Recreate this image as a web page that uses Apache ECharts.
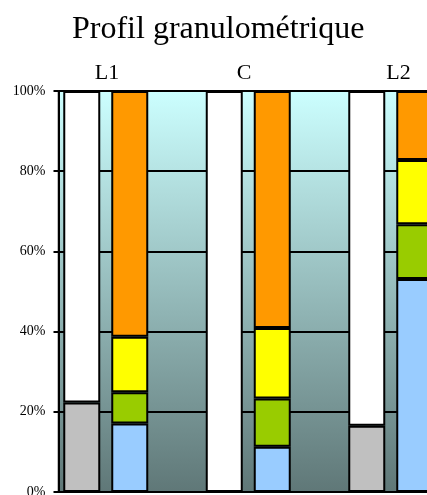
<!DOCTYPE html>
<html>
<head>
<meta charset="utf-8">
<script src="https://cdn.jsdelivr.net/npm/echarts@6/dist/echarts.min.js"></script>
<style>
  html, body { margin: 0; padding: 0; background: #fff; }
  #chart { width: 427px; height: 495px; }
</style>
</head>
<body>
<div id="chart"></div>
<script>
// Profils : L1, C, L2
const categories = ['L1', 'C', 'L2'];

// Éléments grossiers / terre fine (%)
const grossiers = [22.3, 0, 16.5];
const terreFine = [77.7, 100, 83.5];

// Fractions granulométriques de la terre fine (%)
const argiles = [17.1, 11.3, 53.1];
const limonsFins = [7.8, 12.0, 13.7];
const limonsGrossiers = [13.8, 17.6, 16.0];
const sables = [61.3, 59.1, 17.2];

const yTicks = [0, 20, 40, 60, 80, 100];

const serif = '"Liberation Serif", "Times New Roman", serif';
const barBorder = { borderColor: '#000', borderWidth: 2 };

function bar(name, stack, data, color) {
  return {
    name, type: 'bar', stack, data,
    barWidth: 37, barGap: '29.7%',
    itemStyle: Object.assign({ color }, barBorder),
    silent: true
  };
}

// profile names above their column pairs
const headerX = [107, 244, 398.5];

const chart = echarts.init(document.getElementById('chart'));
chart.setOption({
  animation: false,
  backgroundColor: '#fff',
  textStyle: { fontFamily: serif },
  title: {
    text: 'Profil granulométrique',
    left: 72, top: 14, padding: 0,
    textStyle: { fontFamily: serif, fontSize: 32, fontWeight: 'normal', color: '#000' }
  },
  graphic: categories.map((c, i) => ({
    type: 'text', x: headerX[i], y: 62,
    style: { text: c, font: '22px ' + serif, fill: '#000', align: 'center' }
  })),
  grid: {
    left: 58.5, top: 91, width: 427.5, height: 401,
    outerBoundsMode: 'none',
    containLabel: false,
    show: true,
    borderColor: '#808080', borderWidth: 2,
    backgroundColor: {
      type: 'linear', x: 0, y: 0, x2: 0, y2: 1,
      colorStops: [
        { offset: 0, color: '#CCFFFF' },
        { offset: 1, color: '#5F7777' }
      ]
    }
  },
  xAxis: {
    type: 'category',
    data: categories,
    axisLine: { lineStyle: { color: '#000', width: 2 } },
    axisTick: { show: false },
    axisLabel: { show: false },
    splitLine: { show: false }
  },
  yAxis: {
    type: 'value',
    min: yTicks[0], max: yTicks[yTicks.length - 1], interval: 20,
    axisLine: { show: true, lineStyle: { color: '#000', width: 2 } },
    axisTick: { show: true, length: 5, lineStyle: { color: '#000', width: 2 } },
    axisLabel: { formatter: '{value}%', margin: 13, color: '#000', fontFamily: serif, fontSize: 14 },
    splitLine: { show: true, lineStyle: { color: '#000', width: 2 } }
  },
  series: [
    bar('Éléments grossiers', 'total', grossiers, '#C0C0C0'),
    bar('Terre fine', 'total', terreFine, '#FFFFFF'),
    bar('Argiles', 'fines', argiles, '#99CCFF'),
    bar('Limons fins', 'fines', limonsFins, '#99CC00'),
    bar('Limons grossiers', 'fines', limonsGrossiers, '#FFFF00'),
    bar('Sables', 'fines', sables, '#FF9900'),
    // empty third slot keeps each pair left-aligned in its band
    { name: 'vide', type: 'bar', stack: 'vide', data: [null, null, null], barWidth: 37, silent: true }
  ]
});
</script>
</body>
</html>
